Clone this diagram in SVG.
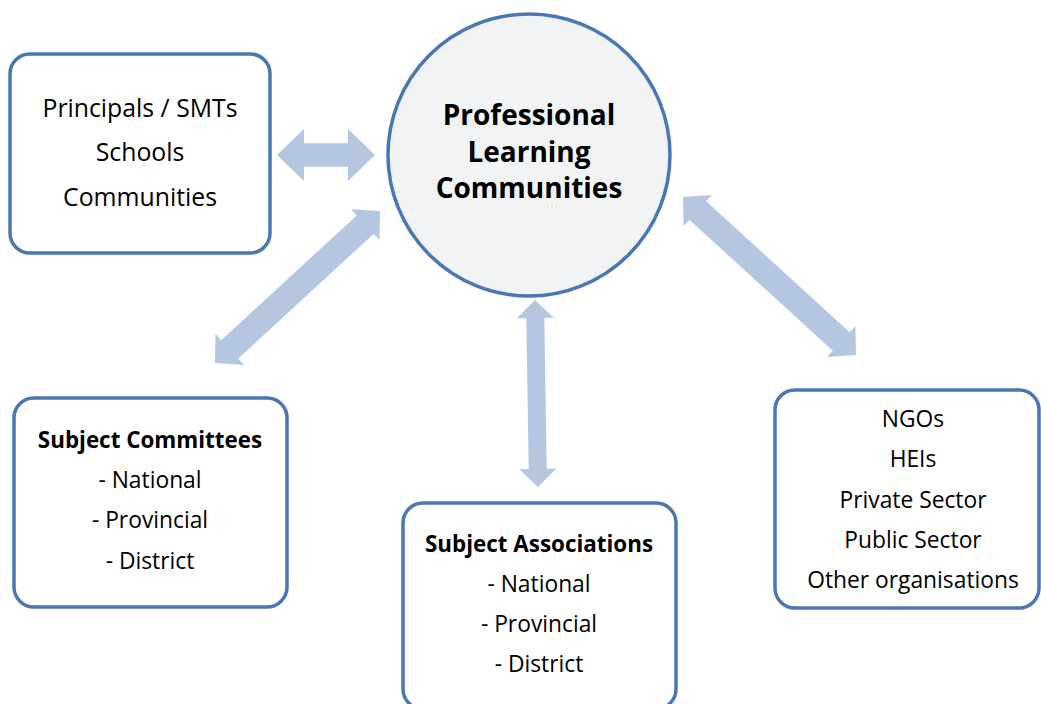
<svg xmlns="http://www.w3.org/2000/svg" width="1041" height="704" viewBox="0 0 1041 704">
<style>
.box{fill:#ffffff;stroke:#4a77b4;stroke-width:3.5}
.hub{fill:#f2f3f5;stroke:#4a77b4;stroke-width:3.5}
.arr{fill:#b4c6e0}
text{font-family:"Open Sans","Liberation Sans",sans-serif;fill:#000;text-anchor:middle}
.t{font-size:22.8px}
.t1{font-size:24.8px}
.b{font-weight:bold;font-size:22.4px}
.hb{font-weight:bold;font-size:28px}
</style>
<rect width="1041" height="704" fill="#ffffff"/>
<g id="connectors">
<polygon class="arr" transform="translate(277,155)" points="0,0 27,-26 27,-11.7 71,-11.7 71,-26 98,0 71,26 71,11.7 27,11.7 27,26"/>
<polygon class="arr" transform="translate(215,363) rotate(-42.65)" points="0,0 20,-21 20,-12.5 204.3,-12.5 204.3,-21 224.3,0 204.3,21 204.3,12.5 20,12.5 20,21"/>
<polygon class="arr" transform="translate(683,197) rotate(42.4)" points="0,0 20,-21 20,-12.5 214.3,-12.5 214.3,-21 234.3,0 214.3,21 214.3,12.5 20,12.5 20,21"/>
<polygon class="arr" transform="translate(535,300) rotate(89.08)" points="0,0 18,-18.5 18,-9 169,-9 169,-18.5 187,0 169,18.5 169,9 18,9 18,18.5"/>
</g>
<g id="hub">
<circle class="hub" cx="529" cy="155" r="141"/>
<text class="hb" x="529" y="125">Professional</text>
<text class="hb" x="529" y="162">Learning</text>
<text class="hb" x="529" y="198">Communities</text>
</g>
<g id="principals">
<rect class="box" x="10" y="54" width="260" height="199" rx="20"/>
<text class="t1" x="140" y="117">Principals / SMTs</text>
<text class="t1" x="140" y="161">Schools</text>
<text class="t1" x="140" y="206">Communities</text>
</g>
<g id="committees">
<rect class="box" x="14" y="398" width="273" height="209" rx="20"/>
<text class="b" x="150" y="448">Subject Committees</text>
<text class="t" x="150" y="488">- National</text>
<text class="t" x="150" y="528">- Provincial</text>
<text class="t" x="150" y="569">- District</text>
</g>
<g id="associations">
<rect class="box" x="403" y="503" width="273" height="206" rx="20"/>
<text class="b" x="539" y="552">Subject Associations</text>
<text class="t" x="539" y="592">- National</text>
<text class="t" x="539" y="632">- Provincial</text>
<text class="t" x="539" y="672">- District</text>
</g>
<g id="organisations">
<rect class="box" x="775" y="390" width="264" height="218" rx="20"/>
<text class="t" x="913" y="427">NGOs</text>
<text class="t" x="913" y="467">HEIs</text>
<text class="t" x="913" y="508">Private Sector</text>
<text class="t" x="913" y="548">Public Sector</text>
<text class="t" x="913" y="588">Other organisations</text>
</g>
</svg>
